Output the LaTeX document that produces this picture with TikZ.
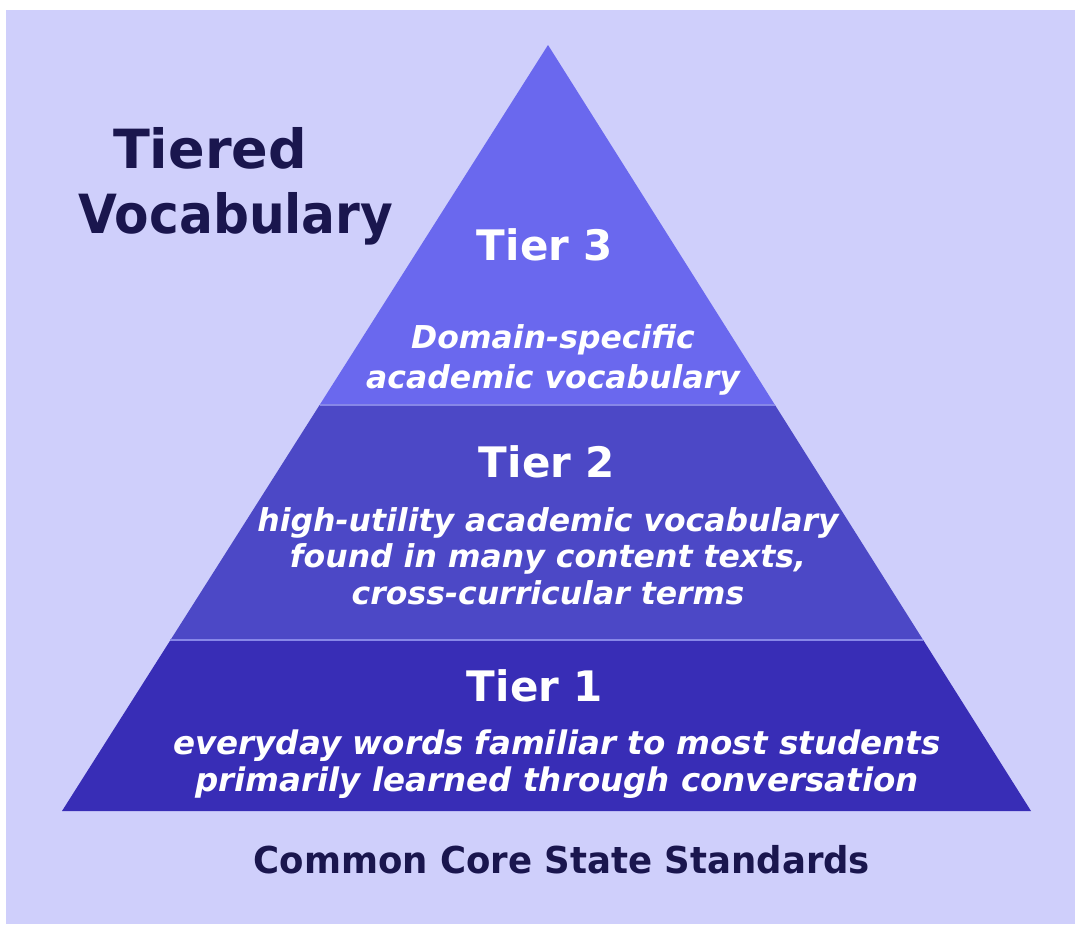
\documentclass[tikz,border=0pt]{standalone}
\usepackage{fontspec}
\setmainfont{DejaVu Sans}
\usetikzlibrary{calc}
\definecolor{bg}{RGB}{207,207,251}
\definecolor{tthree}{RGB}{106,104,238}
\definecolor{ttwo}{RGB}{76,72,198}
\definecolor{tone}{RGB}{56,45,182}
\definecolor{sepcol}{RGB}{135,135,232}
\definecolor{navy}{RGB}{26,22,78}
\begin{document}
\begin{tikzpicture}[x=1pt,y=-1pt,
  tierhead/.style={text=white, inner sep=0pt, font=\fontsize{42}{50}\selectfont\bfseries},
  tierdesc/.style={text=white, inner sep=0pt, align=center, font=\fontsize{31.5}{36.5}\selectfont\bfseries\itshape},
  titletext/.style={text=navy, inner sep=0pt, font=\fontsize{54}{60}\selectfont\bfseries},
  septier/.style={draw=sepcol, line width=2.5pt}
]
\useasboundingbox (0,0) rectangle (1075,924);
\fill[white] (0,0) rectangle (1075,924);
\fill[bg] (6,10) rectangle (1075,924);

\coordinate (A) at (548,45);
\coordinate (BL) at (62,811);
\coordinate (BR) at (1031,811);
\coordinate (L1) at ($(A)!0.4700!(BL)$);
\coordinate (R1) at ($(A)!0.4700!(BR)$);
\coordinate (L2) at ($(A)!0.7768!(BL)$);
\coordinate (R2) at ($(A)!0.7768!(BR)$);

\fill[tthree] (A) -- (R1) -- (L1) -- cycle;
\fill[ttwo] (L1) -- (R1) -- (R2) -- (L2) -- cycle;
\fill[tone] (L2) -- (R2) -- (BR) -- (BL) -- cycle;
\draw[septier] (L1) -- (R1);
\draw[septier] (L2) -- (R2);

\node[titletext, anchor=base] (t1) at (210,168) {Tiered};
\node[titletext, anchor=base] (t2) at (236,233) {\scalebox{0.93}[1]{Vocabulary}};

\node[tierhead] (h3) at (545,245) {Tier 3};
\node[tierdesc, font=\fontsize{31.5}{40}\selectfont\bfseries\itshape] (d3) at (553,360) {Domain-specific\\academic vocabulary};

\node[tierhead] (h2) at (547,462) {Tier 2};
\node[tierdesc] (d2) at (548,556) {high-utility academic vocabulary\\found in many content texts,\\cross-curricular terms};

\node[tierhead] (h1) at (535,686) {Tier 1};
\node[tierdesc, font=\fontsize{32.5}{36.5}\selectfont\bfseries\itshape] (d1) at (557,764) {everyday words familiar to most students\\primarily learned through conversation};

\node[text=navy, inner sep=0pt, font=\fontsize{37}{44}\selectfont\bfseries] (cc) at (562,860) {\scalebox{0.96}[1]{Common Core State Standards}};
\end{tikzpicture}
\end{document}
